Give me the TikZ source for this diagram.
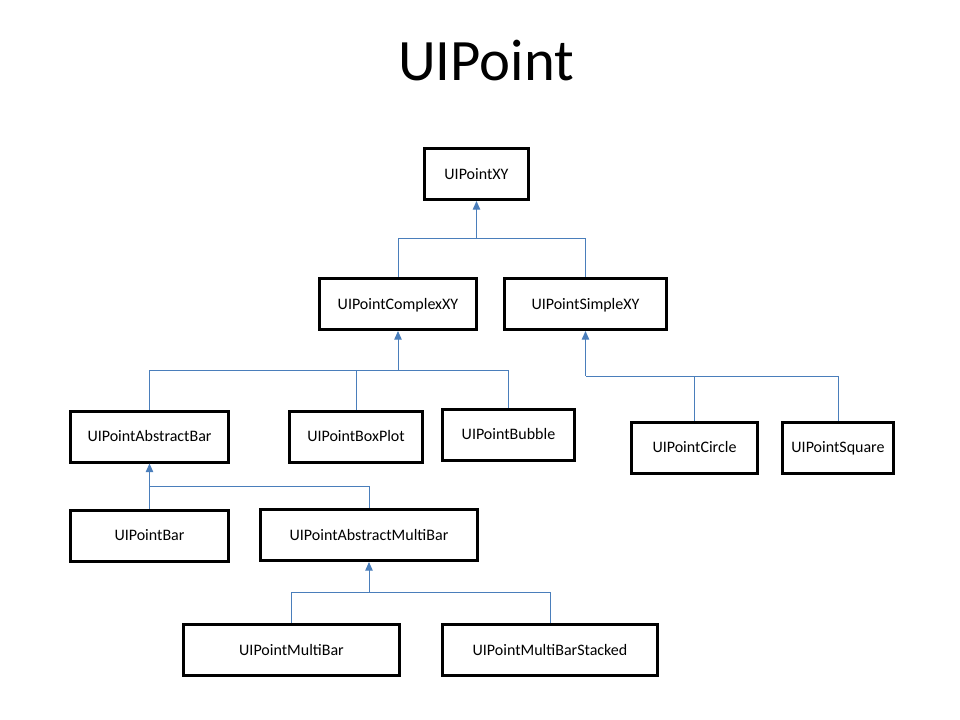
\documentclass[tikz,border=0pt]{standalone}
\usepackage{fontspec}
\setmainfont{Carlito}
\usetikzlibrary{arrows.meta}
\definecolor{linkblue}{RGB}{74,126,187}
\begin{document}
\begin{tikzpicture}[x=0.75pt,y=-0.75pt,
  box/.style={draw=black, line width=2.25pt, inner sep=0pt,
    minimum height={51*0.75pt}, font=\fontsize{12pt}{14pt}\selectfont,
    text height=7.7pt, text depth=0pt},
  bw/.style={minimum width={(#1-3)*0.75pt}},
  conn/.style={draw=linkblue, line width=0.75pt},
  arr/.style={conn, -{Triangle[width=5.6pt,length=6.5pt]}, linkblue}]
\useasboundingbox (0,0) rectangle (960,720);
\fill[white] (0,0) rectangle (960,720);

\node[anchor=base, font=\fontsize{44pt}{52pt}\selectfont] (title) at (486,80.7) {UIPoint};

\node[box, bw=107] (XY)  at (476.5,174) {UIPointXY};
\node[box, bw=160] (CXY) at (398,304) {UIPointComplexXY};
\node[box, bw=165] (SXY) at (585.5,304) {UIPointSimpleXY};
\node[box, bw=161] (AB)  at (149.5,436.5) {UIPointAbstractBar};
\node[box, bw=136] (BP)  at (356,436.5) {UIPointBoxPlot};
\node[box, bw=135] (BB)  at (508.5,434.5) {UIPointBubble};
\node[box, bw=129] (CI)  at (694.5,447.5) {UIPointCircle};
\node[box, bw=114] (SQ)  at (838,447.5) {UIPointSquare};
\node[box, bw=161] (BAR) at (149.5,535.5) {UIPointBar};
\node[box, bw=220] (AMB) at (369,535) {UIPointAbstractMultiBar};
\node[box, bw=219] (MB)  at (291.5,650) {UIPointMultiBar};
\node[box, bw=218] (MBS) at (550,650) {UIPointMultiBarStacked};

\coordinate (jXY)  at (XY.south |- 0,239);
\coordinate (jCXY) at (CXY.south |- 0,370);
\coordinate (jSXY) at (SXY.south |- 0,376);
\coordinate (jAB)  at (AB.south |- 0,486);
\coordinate (jAMB) at (AMB.south |- 0,592);

\draw[conn] (CXY.north) |- (jXY);
\draw[conn] (SXY.north) |- (jXY);
\draw[arr] (jXY) -- (XY.south);

\draw[conn] (AB.north) |- (jCXY);
\draw[conn] (BP.north) |- (jCXY);
\draw[conn] (BB.north) |- (jCXY);
\draw[arr] (jCXY) -- (CXY.south);

\draw[conn] (CI.north) |- (jSXY);
\draw[conn] (SQ.north) |- (jSXY);
\draw[arr] (jSXY) -- (SXY.south);

\draw[conn] (BAR.north) |- (jAB);
\draw[conn] (AMB.north) |- (jAB);
\draw[arr] (jAB) -- (AB.south);

\draw[conn] (MB.north) |- (jAMB);
\draw[conn] (MBS.north) |- (jAMB);
\draw[arr] (jAMB) -- (AMB.south);
\end{tikzpicture}
\end{document}
